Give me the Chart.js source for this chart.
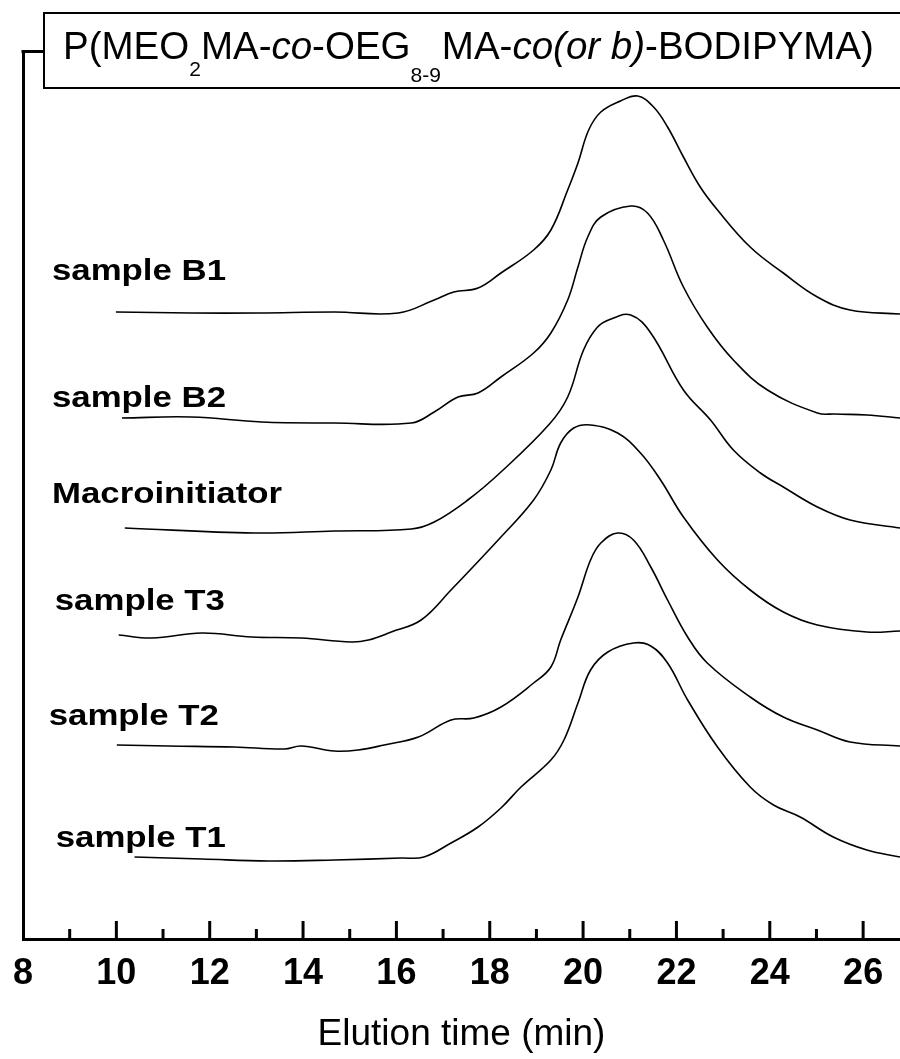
<!DOCTYPE html>
<html><head><meta charset="utf-8">
<script src="https://cdn.jsdelivr.net/npm/chart.js@4"></script>
<style>html,body{margin:0;padding:0;background:#fff;}canvas{display:block;}</style>
</head><body>
<canvas id="c" width="900" height="1059"></canvas>
<script>
// ---- data (elution time in min, detector signal in a.u., traces offset vertically as plotted) ----
const sampleNames = ['sample B1','sample B2','Macroinitiator','sample T3','sample T2','sample T1'];

const b1Time   = [9.99,11.6,13.04,14.67,16.04,16.81,17.23,17.75,18.24,18.94,19.31,19.67,19.89,20.12,20.38,20.8,21.17,21.51,21.81,22.15,22.51,22.88,23.58,24.29,25.02,25.72,26.79];
const b1Signal = [62.7,62.6,62.6,62.7,62.6,63.9,64.7,65.1,66.6,68.9,70.9,74.9,77.6,80.9,82.7,83.8,84.3,83.2,81.2,78.2,75.2,72.9,69.2,66.6,64.2,62.9,62.5];

const b2Time   = [10.12,11.61,13.11,14.67,16.32,16.81,17.32,17.75,18.24,18.94,19.31,19.67,19.89,20.10,20.38,21.02,21.38,21.72,22.15,22.66,23.22,23.95,25.02,25.4,26.08,26.79];
const b2Signal = [52.1,52.2,51.7,51.6,51.6,52.7,54.2,54.6,56.2,58.6,60.6,63.9,67.2,70.2,72.2,73.3,72.6,69.9,65.2,61.2,57.9,54.9,52.6,52.5,52.4,52.1];

const macroTime   = [10.18,12.96,14.67,16.32,16.81,17.53,18.24,19.28,19.67,20.01,20.31,20.6,21.02,21.45,22.15,22.73,23.22,23.80,24.29,25.02,25.72,26.79];
const macroSignal = [41.1,40.6,40.8,41.0,41.7,43.9,46.7,51.5,54.2,58.9,61.2,62.0,62.4,60.6,54.9,51.9,48.9,46.6,45.2,43.2,41.9,41.1];

const t3Time   = [10.05,10.76,11.83,12.90,13.96,15.03,15.40,15.89,16.53,17.17,18.24,18.94,19.31,19.52,19.80,20.16,20.74,21.23,21.66,22.15,22.88,23.58,24.29,25.02,26.08,26.79];
const t3Signal = [30.4,30.1,30.6,30.2,30.1,29.7,29.9,30.7,31.9,34.9,40.2,43.9,46.9,49.6,51.1,51.4,50.6,48.6,45.9,42.2,37.9,34.9,32.7,31.4,30.7,30.8];

const t2Time   = [10.01,11.12,12.53,13.60,13.96,14.67,15.18,15.74,16.47,17.17,17.66,18.24,18.94,19.31,19.52,19.89,20.16,20.38,20.74,21.08,21.45,21.81,22.24,22.66,23.58,24.29,25.02,25.72,26.79];
const t2Signal = [19.4,19.3,19.2,19.0,19.3,18.8,18.9,19.4,20.2,21.9,22.1,23.2,25.6,27.2,29.9,34.2,37.9,39.6,40.6,39.9,37.2,33.9,30.2,27.6,24.2,22.2,20.9,19.7,19.3];

const t1Time   = [10.39,11.83,13.26,14.67,16.10,16.59,17.17,17.75,18.24,18.67,19.31,19.59,19.89,20.16,20.53,21.08,21.45,21.81,22.24,22.88,23.58,24.08,24.65,25.36,26.08,26.79];
const t1Signal = [8.2,8.0,7.8,7.9,8.1,8.2,9.6,11.2,13.1,15.2,17.9,19.9,23.6,26.9,28.7,29.6,29.3,27.6,23.9,19.2,15.2,13.4,12.2,10.2,8.9,8.2];

// label anchors (time, signal) for the trace names
const labelTime   = [8.62, 8.62, 8.62, 8.68, 8.55, 8.70];
const labelSignal = [65.9, 53.2, 43.6, 32.9, 21.4, 9.2];

const xMajorTicks = [10,12,14,16,18,20,22,24,26];
const xMinorTicks = [9,11,13,15,17,19,21,23,25];
const xMin = 8, xMax = 26.79, yMin = 0, yMax = 88.8;

const titleParts = [['P(MEO','n'],['2','sub'],['MA-','n'],['co','i'],['-OEG','n'],['8-9','sub2'],['MA-','n'],['co(or b)','i'],['-BODIPYMA)','n']];

const FAM = '"Liberation Sans", Arial, Helvetica, sans-serif';

function zip(t, s){ return t.map((v,i)=>({x:v, y:s[i]})); }
const traces = [[b1Time,b1Signal],[b2Time,b2Signal],[macroTime,macroSignal],[t3Time,t3Signal],[t2Time,t2Signal],[t1Time,t1Signal]];

const decor = {
  id: 'decor',
  afterDraw(chart){
    const {ctx, chartArea:a, scales:{x, y}} = chart;
    ctx.save();
    ctx.strokeStyle = '#000'; ctx.lineWidth = 3; ctx.lineCap = 'butt';
    // inward ticks
    xMajorTicks.forEach(v => { const px = x.getPixelForValue(v); ctx.beginPath(); ctx.moveTo(px, a.bottom); ctx.lineTo(px, a.bottom - 18); ctx.stroke(); });
    xMinorTicks.forEach(v => { const px = x.getPixelForValue(v); ctx.beginPath(); ctx.moveTo(px, a.bottom); ctx.lineTo(px, a.bottom - 10); ctx.stroke(); });
    // top stub of the y axis joining the title box
    ctx.beginPath(); ctx.moveTo(a.left - 1.5, a.top + 0.5); ctx.lineTo(44, a.top + 0.5); ctx.stroke();
    // title box
    ctx.lineWidth = 2;
    ctx.strokeRect(44, 13, 900, 75);
    // title text
    ctx.fillStyle = '#000'; ctx.textBaseline = 'alphabetic'; ctx.textAlign = 'left';
    let cx = 63;
    titleParts.forEach(([txt, kind]) => {
      let f, dy = 0;
      if (kind === 'n') f = '38.5px ' + FAM;
      else if (kind === 'i') f = 'italic 38.5px ' + FAM;
      else { f = '21px ' + FAM; dy = kind === 'sub' ? 17 : 23; }
      ctx.font = f;
      ctx.fillText(txt, cx, 59 + dy);
      cx += ctx.measureText(txt).width + (kind === 'sub2' ? 1 : 0);
    });
    // trace names
    ctx.font = 'bold 29px ' + FAM;
    sampleNames.forEach((name, i) => {
      const px = x.getPixelForValue(labelTime[i]);
      const py = y.getPixelForValue(labelSignal[i]);
      ctx.save(); ctx.translate(px, py); ctx.scale(1.2, 1.03); ctx.fillText(name, 0, 0); ctx.restore();
    });
    ctx.restore();
  }
};

new Chart(document.getElementById('c'), {
  type: 'line',
  data: {
    datasets: traces.map((tr, i) => ({
      label: sampleNames[i],
      data: zip(tr[0], tr[1]),
      borderColor: '#000', borderWidth: 1.6, pointRadius: 0,
      tension: 0.4, fill: false
    }))
  },
  options: {
    responsive: false, animation: false,
    layout: { padding: { top: 51, left: 0, right: 0, bottom: 0 } },
    plugins: { legend: { display: false }, tooltip: { enabled: false } },
    scales: {
      x: {
        type: 'linear', min: xMin, max: xMax,
        grid: { display: false, drawTicks: false },
        border: { display: true, color: '#000', width: 3 },
        ticks: {
          stepSize: 1, includeBounds: false, autoSkip: false, maxRotation: 0,
          padding: 13, color: '#000',
          font: { family: FAM, size: 36, weight: 'bold' },
          callback: v => (xMajorTicks.includes(v) || v === 8) ? String(v) : ''
        },
        title: { display: true, text: 'Elution time (min)', color: '#000',
                 font: { family: FAM, size: 37 }, padding: { top: 0, bottom: 2 } },
        afterFit: s => { s.height = 120; }
      },
      y: {
        type: 'linear', min: yMin, max: yMax,
        grid: { display: false, drawTicks: false },
        border: { display: true, color: '#000', width: 3 },
        ticks: { display: false },
        afterFit: s => { s.width = 21; }
      }
    }
  },
  plugins: [decor]
});
</script>
</body></html>
